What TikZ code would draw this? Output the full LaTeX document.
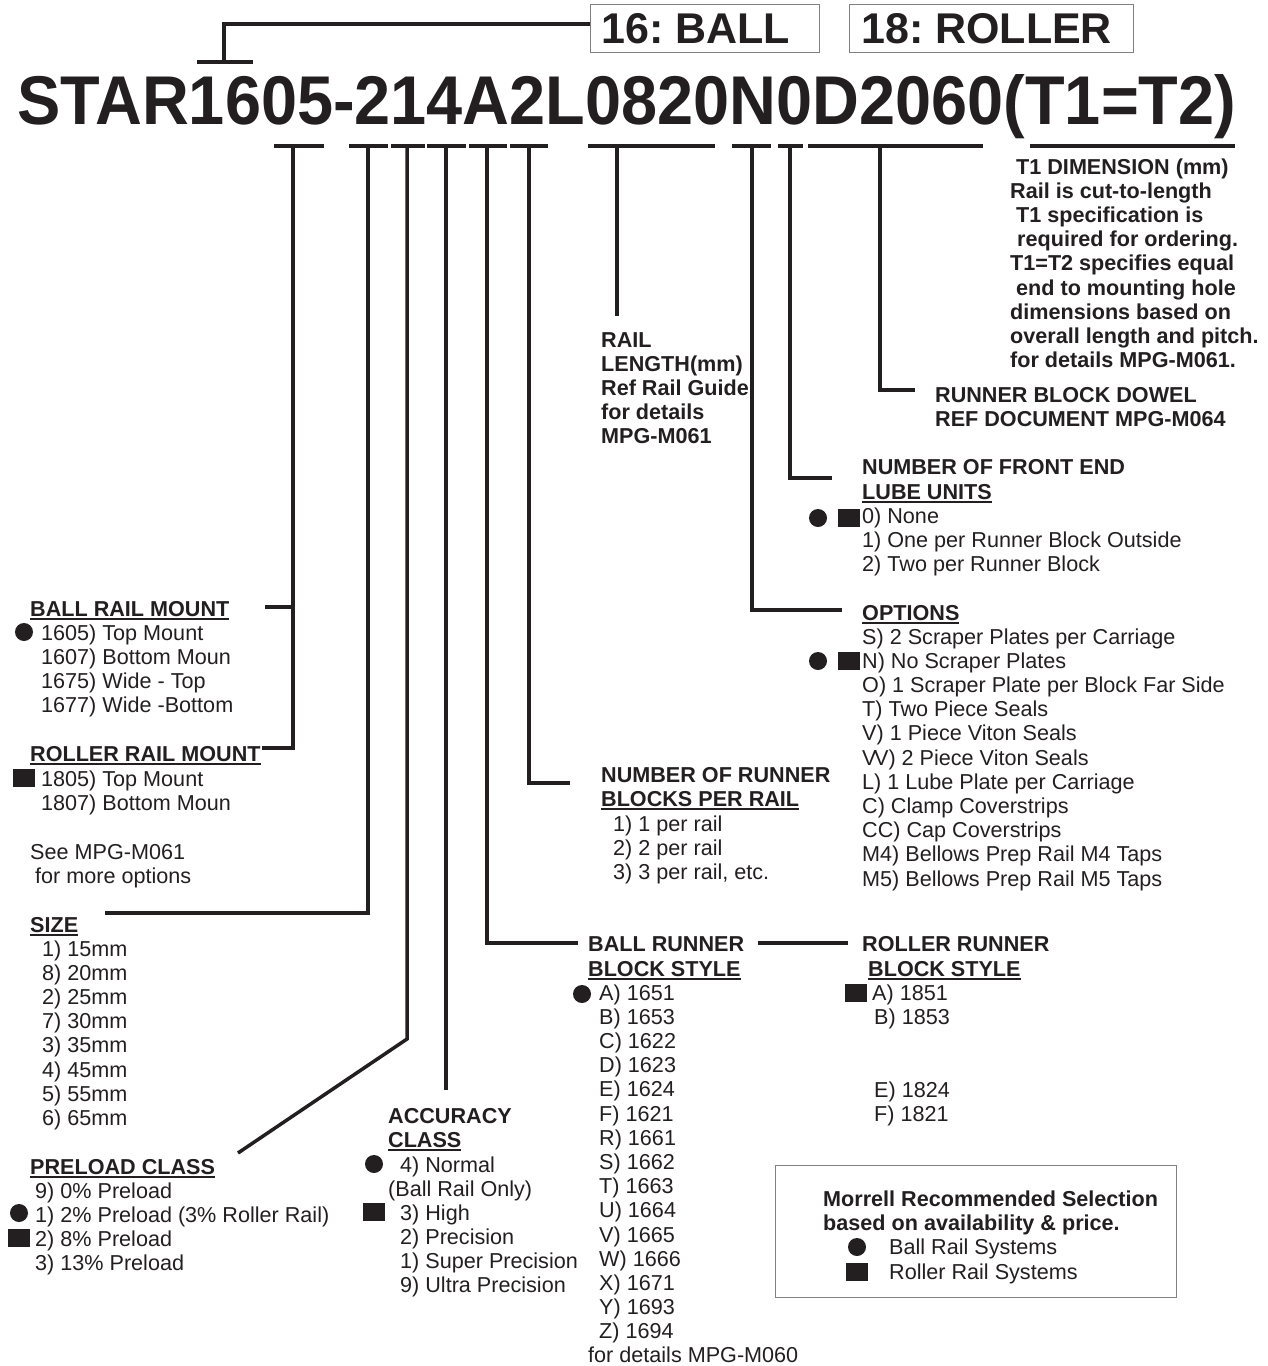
\documentclass[tikz,border=0pt]{standalone}
\usepackage{fontspec}
\setmainfont{Liberation Sans}
\definecolor{ink}{HTML}{231F20}
\definecolor{boxgray}{HTML}{808080}
\newcommand\ulin[1]{\setbox0\hbox{#1}\rlap{\color{ink}\rule[-3.5pt]{\wd0}{1.8pt}}\box0}
\newcommand\listat[5]{% x, y0, style, name, list
  \foreach \t [count=\i from 0] in {#5} {\node[#3, name=#4-\i] at (#1, #2+\i*24.2) {\t};}}
\frenchspacing
\begin{document}
\frenchspacing
\begin{tikzpicture}[x=1pt,y=-1pt,
  txt/.style={anchor=base west, inner sep=0pt, text=ink, font=\fontsize{21.6}{24}\selectfont},
  bt/.style={txt, font=\bfseries\fontsize{21.6}{24}\selectfont},
  conn/.style={draw=ink, line width=3.5pt},
  barline/.style={draw=ink, line width=4.5pt},
  dot/.style={circle, fill=ink, inner sep=0pt, minimum size=18pt},
  sq/.style={rectangle, fill=ink, inner sep=0pt, minimum width=22pt, minimum height=18pt},
  frame/.style={draw=boxgray, line width=1.3pt, inner sep=0pt, anchor=north west}]
\useasboundingbox (0,0) rectangle (1267,1366);

% ---- title code and type boxes
\node[anchor=base west, inner sep=0pt, text=ink, font=\bfseries\fontsize{69}{74}\selectfont] (code) at (17,124) {\scalebox{0.94}[1]{STAR1605-214A2L0820N0D2060(T1=T2)}};
\node[frame, minimum width=229pt, minimum height=48pt] (ballbox) at (590,4) {};
\node[frame, minimum width=284pt, minimum height=48pt] (rollbox) at (849,4) {};
\node[anchor=base west, inner sep=0pt, text=ink, font=\bfseries\fontsize{43}{46}\selectfont] (balltxt) at (601,43) {16: BALL};
\node[anchor=base west, inner sep=0pt, text=ink, font=\bfseries\fontsize{43}{46}\selectfont] (rolltxt) at (861,43) {18: ROLLER};

% ---- top bracket
\coordinate (tb1) at (197,62); \coordinate (tb2) at (253,62); \coordinate (tbm) at (224,62);
\draw[barline] (tb1) -- (tb2);
\draw[conn] (tbm) |- (ballbox.west |- 0,24);

% ---- underline bars
\foreach \a/\b/\n in {274/324/b1, 349/388/b2, 391/425/b3, 427/466/b4, 469/507/b5, 510/548/b6, 588/715/b7, 732/771/b8, 778/803/b9, 808/983/b10, 1030/1235/b11}{
  \coordinate (\n-l) at (\a,146); \coordinate (\n-r) at (\b,146);
  \draw[barline] (\n-l) -- (\n-r);
}

% ---- connector end points
\coordinate (c1) at (293,146);
\coordinate (mnt1) at (265,607); \coordinate (mnt2) at (262,748);
\coordinate (c2) at (368,146); \coordinate (size) at (105,913);
\coordinate (c3) at (407,146); \coordinate (c3b) at (407,1039); \coordinate (prel) at (238,1153);
\coordinate (c4) at (446,146); \coordinate (acc) at (446,1090);
\coordinate (c5) at (487,146); \coordinate (brb) at (578,943);
\coordinate (c6) at (529,146); \coordinate (nrb) at (570,783);
\coordinate (c7) at (617,146); \coordinate (rl) at (617,316);
\coordinate (c8) at (752,146); \coordinate (opt) at (842,610);
\coordinate (c9) at (790,146); \coordinate (lube) at (832,478);
\coordinate (c10) at (880,146); \coordinate (dow) at (915,390);
\coordinate (rr1) at (758,943); \coordinate (rr2) at (848,943);

\draw[conn] (c1) |- (mnt2);
\draw[conn] (c1 |- mnt1) -- (mnt1);
\draw[conn] (c2) |- (size);
\draw[conn] (c3) -- (c3b) -- (prel);
\draw[conn] (c4) -- (acc);
\draw[conn] (c5) |- (brb);
\draw[conn] (c6) |- (nrb);
\draw[conn] (c7) -- (rl);
\draw[conn] (c8) |- (opt);
\draw[conn] (c9) |- (lube);
\draw[conn] (c10) |- (dow);
\draw[conn] (rr1) -- (rr2);

% ---- rail mount
\node[bt] (hbm) at (30,616) {\ulin{BALL RAIL MOUNT}};
\listat{41}{640}{txt}{bm}{1605) Top Mount, 1607) Bottom Moun, 1675) Wide - Top, 1677) Wide -Bottom}
\node[dot] (dbm) at (24,632) {};
\node[bt] (hrm) at (30,761) {\ulin{ROLLER RAIL MOUNT}};
\listat{41}{786}{txt}{rm}{1805) Top Mount, 1807) Bottom Moun}
\node[sq] (srm) at (24,778) {};
\node[txt] (see1) at (30,859) {See MPG-M061};
\node[txt] (see2) at (35,883) {for more options};

% ---- size
\node[bt] (hsize) at (30,932) {\ulin{SIZE}};
\listat{42}{956}{txt}{sz}{1) 15mm, 8) 20mm, 2) 25mm, 7) 30mm, 3) 35mm, 4) 45mm, 5) 55mm, 6) 65mm}

% ---- preload
\node[bt] (hpre) at (30,1174) {\ulin{PRELOAD CLASS}};
\listat{35}{1198}{txt}{pr}{9) 0\% Preload, 1) 2\% Preload (3\% Roller Rail), 2) 8\% Preload, 3) 13\% Preload}
\node[dot] (dpr) at (19,1213) {};
\node[sq] (spr) at (19,1238) {};

% ---- accuracy
\node[bt] (hacc1) at (388,1123) {ACCURACY};
\node[bt] (hacc2) at (388,1147) {\ulin{CLASS}};
\node[txt] (ac0) at (400,1172) {4) Normal};
\node[txt] (ac1) at (388,1196) {(Ball Rail Only)};
\listat{400}{1220}{txt}{ac}{3) High, 2) Precision, 1) Super Precision, 9) Ultra Precision}
\node[dot] (dac) at (374,1164) {};
\node[sq] (sac) at (374,1212) {};

% ---- ball runner block style
\node[bt] (hbr1) at (588,951) {BALL RUNNER};
\node[bt] (hbr2) at (588,976) {\ulin{BLOCK STYLE}};
\listat{599}{1000}{txt}{br}{A) 1651, B) 1653, C) 1622, D) 1623, E) 1624, F) 1621, R) 1661, S) 1662, T) 1663, U) 1664, V) 1665, W) 1666, X) 1671, Y) 1693, Z) 1694}
\node[dot] (dbr) at (582,994) {};
\node[txt] (brd) at (588,1362) {for details MPG-M060};

% ---- roller runner block style
\node[bt] (hrr1) at (862,951) {ROLLER RUNNER};
\node[bt] (hrr2) at (868,976) {\ulin{BLOCK STYLE}};
\node[txt] (rra) at (872,1000) {A) 1851};
\node[txt] (rrb) at (874,1024) {B) 1853};
\node[txt] (rre) at (874,1097) {E) 1824};
\node[txt] (rrf) at (874,1121) {F) 1821};
\node[sq] (srr) at (856,993) {};

% ---- number of runner blocks
\node[bt] (hnr1) at (601,782) {NUMBER OF RUNNER};
\node[bt] (hnr2) at (601,806) {\ulin{BLOCKS PER RAIL}};
\listat{613}{831}{txt}{nr}{1) 1 per rail, 2) 2 per rail, {3) 3 per rail, etc.}}

% ---- rail length
\listat{601}{347}{bt}{rlen}{RAIL, LENGTH(mm), Ref Rail Guide, for details, MPG-M061}

% ---- front end lube
\node[bt] (hlu1) at (862,474) {NUMBER OF FRONT END};
\node[bt] (hlu2) at (862,499) {\ulin{LUBE UNITS}};
\listat{862}{523}{txt}{lu}{0) None, 1) One per Runner Block Outside, 2) Two per Runner Block}
\node[dot] (dlu) at (818,518) {};
\node[sq] (slu) at (849,518) {};

% ---- options
\node[bt] (hop) at (862,620) {\ulin{OPTIONS}};
\listat{862}{644}{txt}{op}{S) 2 Scraper Plates per Carriage, N) No Scraper Plates, O) 1 Scraper Plate per Block Far Side, T) Two Piece Seals, V) 1 Piece Viton Seals, V\kern-2.5pt V) 2 Piece Viton Seals, L) 1 Lube Plate per Carriage, C) Clamp Coverstrips, CC) Cap Coverstrips, M4) Bellows Prep Rail M4 Taps, M5) Bellows Prep Rail M5 Taps}
\node[dot] (dop) at (818,661) {};
\node[sq] (sop) at (849,661) {};

% ---- runner block dowel
\node[bt] (dw1) at (935,402) {RUNNER BLOCK DOWEL};
\node[bt] (dw2) at (935,426) {REF DOCUMENT MPG-M064};

% ---- T1 dimension
\foreach \xx/\t [count=\i from 0] in {1016/T1 DIMENSION (mm), 1010/Rail is cut-to-length, 1016/T1 specification is, 1017/required for ordering., 1010/T1=T2 specifies equal, 1016/end to mounting hole, 1010/dimensions based on, 1010/overall length and pitch., 1010/for details MPG-M061.}{
  \node[bt, name=t1-\i] at (\xx, 174+\i*24.2) {\t};
}

% ---- legend
\node[frame, minimum width=401pt, minimum height=132pt] (legend) at (775,1165) {};
\node[bt] (lg1) at (823,1206) {Morrell Recommended Selection};
\node[bt] (lg2) at (823,1230) {based on availability \& price.};
\node[dot] (dlg) at (857,1247) {};
\node[txt] (lg3) at (889,1254) {Ball Rail Systems};
\node[sq] (slg) at (857,1272) {};
\node[txt] (lg4) at (889,1279) {Roller Rail Systems};
\end{tikzpicture}
\end{document}
